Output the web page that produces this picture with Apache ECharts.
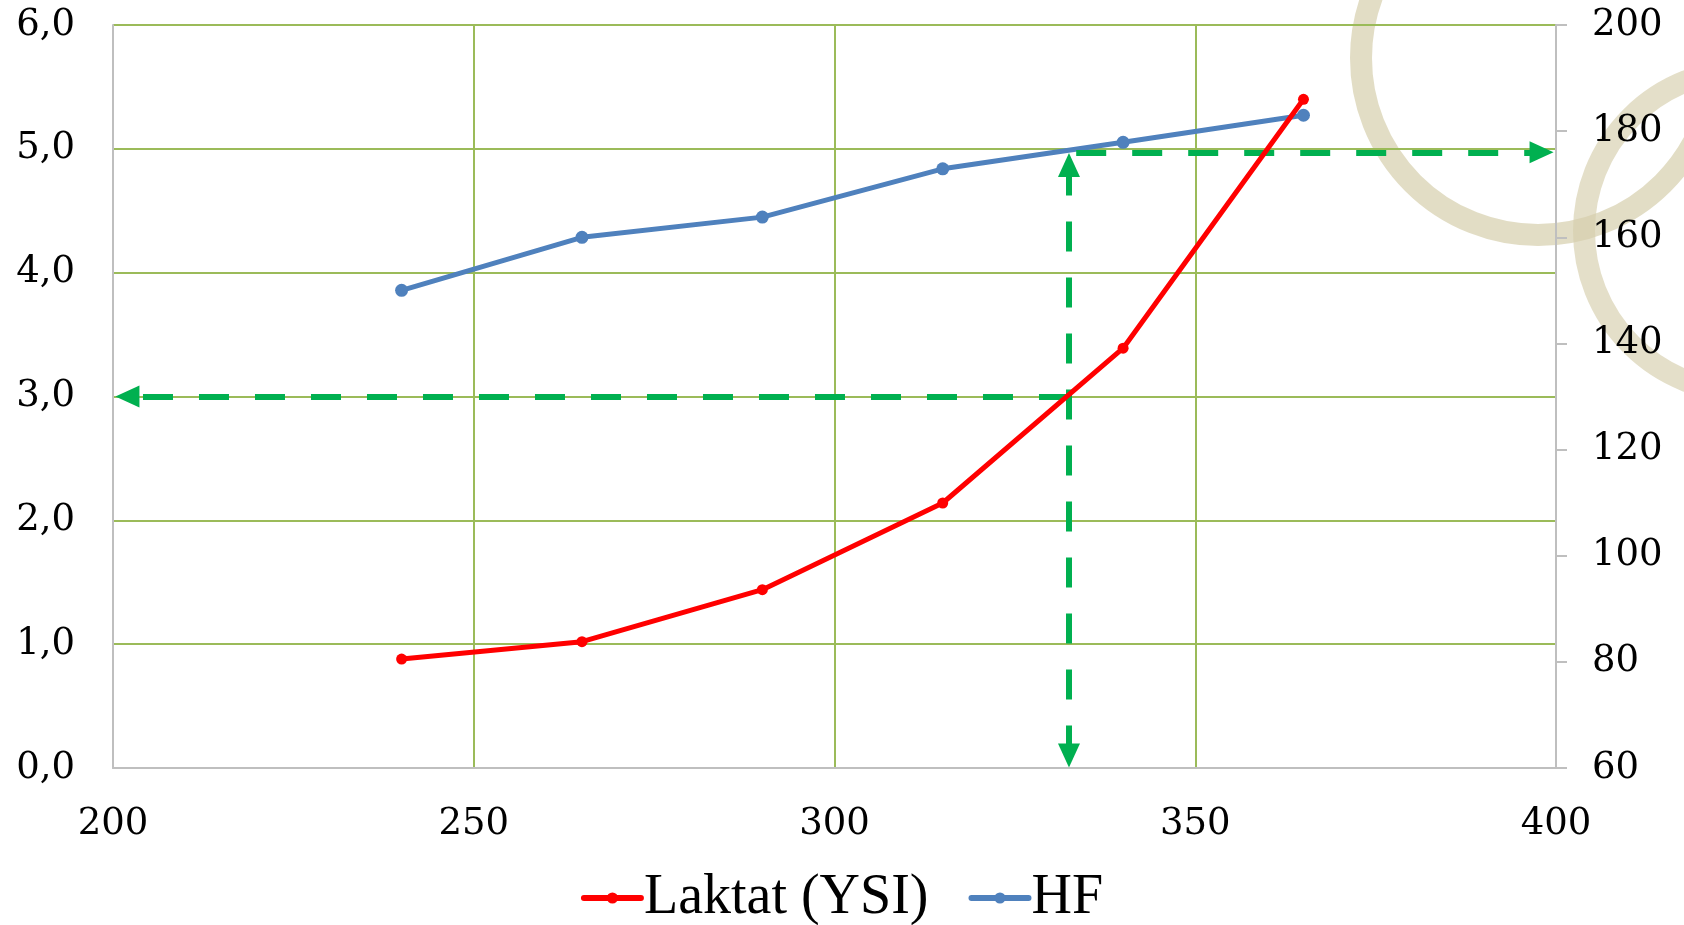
<!DOCTYPE html>
<html><head><meta charset="utf-8">
<script src="https://cdn.jsdelivr.net/npm/echarts@6/dist/echarts.min.js"></script>
<style>html,body{margin:0;padding:0;background:#fff}#c{width:1684px;height:925px}</style>
</head><body><div id="c"></div>
<script>
// ---- data ----
const watts = [240, 265, 290, 315, 340, 365];
const laktat = [0.88, 1.02, 1.44, 2.14, 3.39, 5.40];
const hf = [150, 160, 163.8, 172.9, 177.9, 183];
const seriesNames = ['Laktat (YSI)', 'HF'];
const xTicks = {min: 200, max: 400, interval: 50};
const yLeftTicks = {min: 0, max: 6, interval: 1};
const yRightTicks = {min: 60, max: 200, interval: 20};
// threshold guide arrows (data coordinates of where the arrows start / end)
const thresholdWatt = 332.5;
const thresholdLaktat = 3.0;
const thresholdHF = 176;
const arrowLeftEnd = 202;
const arrowRightEnd = 398;
const arrowBottomLaktat = 0.1;
const arrowTopLaktat = 4.87;

const chart = echarts.init(document.getElementById('c'), null, {renderer: 'canvas'});
const green = '#00B050';
const gridGreen = '#9BBB59';
const axisFont = 'DejaVu Serif';
const fmt = v => v.toFixed(1).replace('.', ',');
const dash = [30, 26];

const arrowLine = {
  silent: true, animation: false,
  symbolSize: [22, 24],
  label: {show: false},
  lineStyle: {color: green, width: 6, type: dash, opacity: 1},
  emphasis: {disabled: true}
};

chart.setOption({
  animation: false,
  backgroundColor: '#fff',
  graphic: [
    {type: 'circle', z: -10, silent: true, shape: {cx: 1538, cy: 58, r: 177},
     style: {fill: 'none', stroke: 'rgba(214,206,172,0.7)', lineWidth: 22}},
    {type: 'circle', z: -10, silent: true, shape: {cx: 1745, cy: 231, r: 161},
     style: {fill: 'none', stroke: 'rgba(214,206,172,0.65)', lineWidth: 22}}
  ],
  grid: {left: 113, right: 128, top: 25, bottom: 157, containLabel: false},
  legend: {
    data: seriesNames, bottom: -6, left: 'center',
    itemWidth: 57, itemHeight: 14, itemGap: 40,
    lineStyle: {width: 6, cap: 'round'},
    textStyle: {fontFamily: 'Liberation Serif', fontSize: 56, color: '#000', padding: [0, 0, 0, -2]}
  },
  xAxis: {
    type: 'value', min: xTicks.min, max: xTicks.max, interval: xTicks.interval,
    axisLine: {show: true, lineStyle: {color: '#BFBFBF', width: 2}},
    axisTick: {show: false},
    splitLine: {show: true, lineStyle: {color: gridGreen, width: 2}},
    axisLabel: {fontFamily: axisFont, fontSize: 37, color: '#000', margin: 38}
  },
  yAxis: [
    {
      type: 'value', min: yLeftTicks.min, max: yLeftTicks.max, interval: yLeftTicks.interval,
      axisLine: {show: true, lineStyle: {color: '#BFBFBF', width: 2}},
      axisTick: {show: false},
      splitLine: {show: true, lineStyle: {color: gridGreen, width: 2}},
      axisLabel: {fontFamily: axisFont, fontSize: 37, color: '#000', margin: 38, formatter: fmt}
    },
    {
      type: 'value', min: yRightTicks.min, max: yRightTicks.max, interval: yRightTicks.interval,
      position: 'right',
      axisLine: {show: true, lineStyle: {color: '#BFBFBF', width: 2}},
      axisTick: {show: true, length: 11, lineStyle: {color: '#BFBFBF', width: 2}},
      splitLine: {show: false},
      axisLabel: {fontFamily: axisFont, fontSize: 37, color: '#000', margin: 36}
    }
  ],
  series: [
    {
      name: seriesNames[0], type: 'line', yAxisIndex: 0, z: 5,
      data: watts.map((w, i) => [w, laktat[i]]),
      color: '#FF0000',
      lineStyle: {color: '#FF0000', width: 5},
      itemStyle: {color: '#FF0000'},
      symbol: 'circle', symbolSize: 11
    },
    {
      name: seriesNames[1], type: 'line', yAxisIndex: 1, z: 4,
      data: watts.map((w, i) => [w, hf[i]]),
      color: '#4F81BD',
      lineStyle: {color: '#4F81BD', width: 5},
      itemStyle: {color: '#4F81BD'},
      symbol: 'circle', symbolSize: 13
    },
    {
      name: 'arrowsLeft', type: 'line', yAxisIndex: 0, z: 6,
      data: [], symbol: 'none', lineStyle: {width: 0},
      markLine: Object.assign({}, arrowLine, {
        data: [
          [{coord: [thresholdWatt, thresholdLaktat], symbol: 'none'}, {coord: [arrowLeftEnd, thresholdLaktat], symbol: 'triangle'}],
          [{coord: [thresholdWatt, arrowBottomLaktat], symbol: 'triangle'}, {coord: [thresholdWatt, arrowTopLaktat], symbol: 'triangle'}]
        ]
      })
    },
    {
      name: 'arrowsRight', type: 'line', yAxisIndex: 1, z: 6,
      data: [], symbol: 'none', lineStyle: {width: 0},
      markLine: Object.assign({}, arrowLine, {
        data: [
          [{coord: [thresholdWatt + 1, thresholdHF], symbol: 'none'}, {coord: [arrowRightEnd, thresholdHF], symbol: 'triangle'}]
        ]
      })
    }
  ]
});
</script></body></html>
